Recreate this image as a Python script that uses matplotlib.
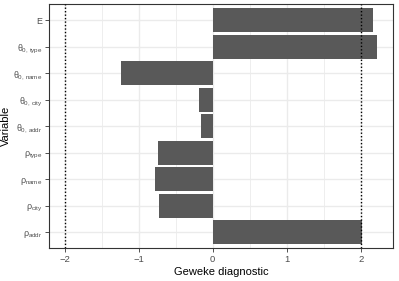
import matplotlib
matplotlib.use("Agg")
import matplotlib.pyplot as plt
from matplotlib.ticker import MultipleLocator

plt.rcParams["font.family"] = ["Liberation Sans", "DejaVu Sans"]
plt.rcParams["mathtext.fontset"] = "custom"
plt.rcParams["mathtext.rm"] = "Liberation Sans"
plt.rcParams["mathtext.it"] = "Liberation Sans"
plt.rcParams["mathtext.sf"] = "Liberation Sans"

# variables from bottom to top
labels = [
    r"$\rho_{\mathrm{addr}}$",
    r"$\rho_{\mathrm{city}}$",
    r"$\rho_{\mathrm{name}}$",
    r"$\rho_{\mathrm{type}}$",
    r"$\theta_{0,\,\mathrm{addr}}$",
    r"$\theta_{0,\,\mathrm{city}}$",
    r"$\theta_{0,\,\mathrm{name}}$",
    r"$\theta_{0,\,\mathrm{type}}$",
    "E",
]
geweke = [2.02, -0.72, -0.78, -0.74, -0.16, -0.19, -1.24, 2.22, 2.16]
cutoffs = [-2, 2]
xticks = [-2, -1, 0, 1, 2]

fig = plt.figure(figsize=(3.99, 2.81), dpi=100)
ax = fig.add_axes([0.123, 0.117, 0.861, 0.867])

pos = list(range(len(labels)))
ax.barh(pos, geweke, height=0.9, color="#595959", zorder=2)
for c in cutoffs:
    ax.axvline(c, color="black", linestyle=(0, (1, 1.5)), linewidth=1.0, zorder=3)

lo = min(min(geweke), min(cutoffs))
hi = max(max(geweke), max(cutoffs))
pad = (hi - lo) * 0.05
ax.set_xlim(lo - pad, hi + pad)
ax.set_ylim(-0.6, len(labels) - 1 + 0.6)

ax.set_xticks(xticks)
ax.set_xticklabels([str(t).replace("-", "\u2212") for t in xticks])
ax.xaxis.set_minor_locator(MultipleLocator(0.5))
ax.set_yticks(pos)
ax.set_yticklabels(labels)

ax.grid(True, which="major", color="#EBEBEB", linewidth=1.0, zorder=0)
ax.grid(True, which="minor", axis="x", color="#EBEBEB", linewidth=0.6, zorder=0)
ax.set_axisbelow(True)
ax.tick_params(which="major", length=2.8, width=0.6, color="#333333",
               labelcolor="#4D4D4D", labelsize=6.4, pad=2)
ax.tick_params(axis="x", labelsize=6.8)
ax.tick_params(which="minor", length=0)
for s in ax.spines.values():
    s.set_edgecolor("#333333")
    s.set_linewidth(0.8)

ax.set_xlabel("Geweke diagnostic", fontsize=8, labelpad=2)
ax.set_ylabel("Variable", fontsize=8)
ax.yaxis.set_label_coords(-0.112, 0.5)

fig.savefig("out.png", dpi=100)
